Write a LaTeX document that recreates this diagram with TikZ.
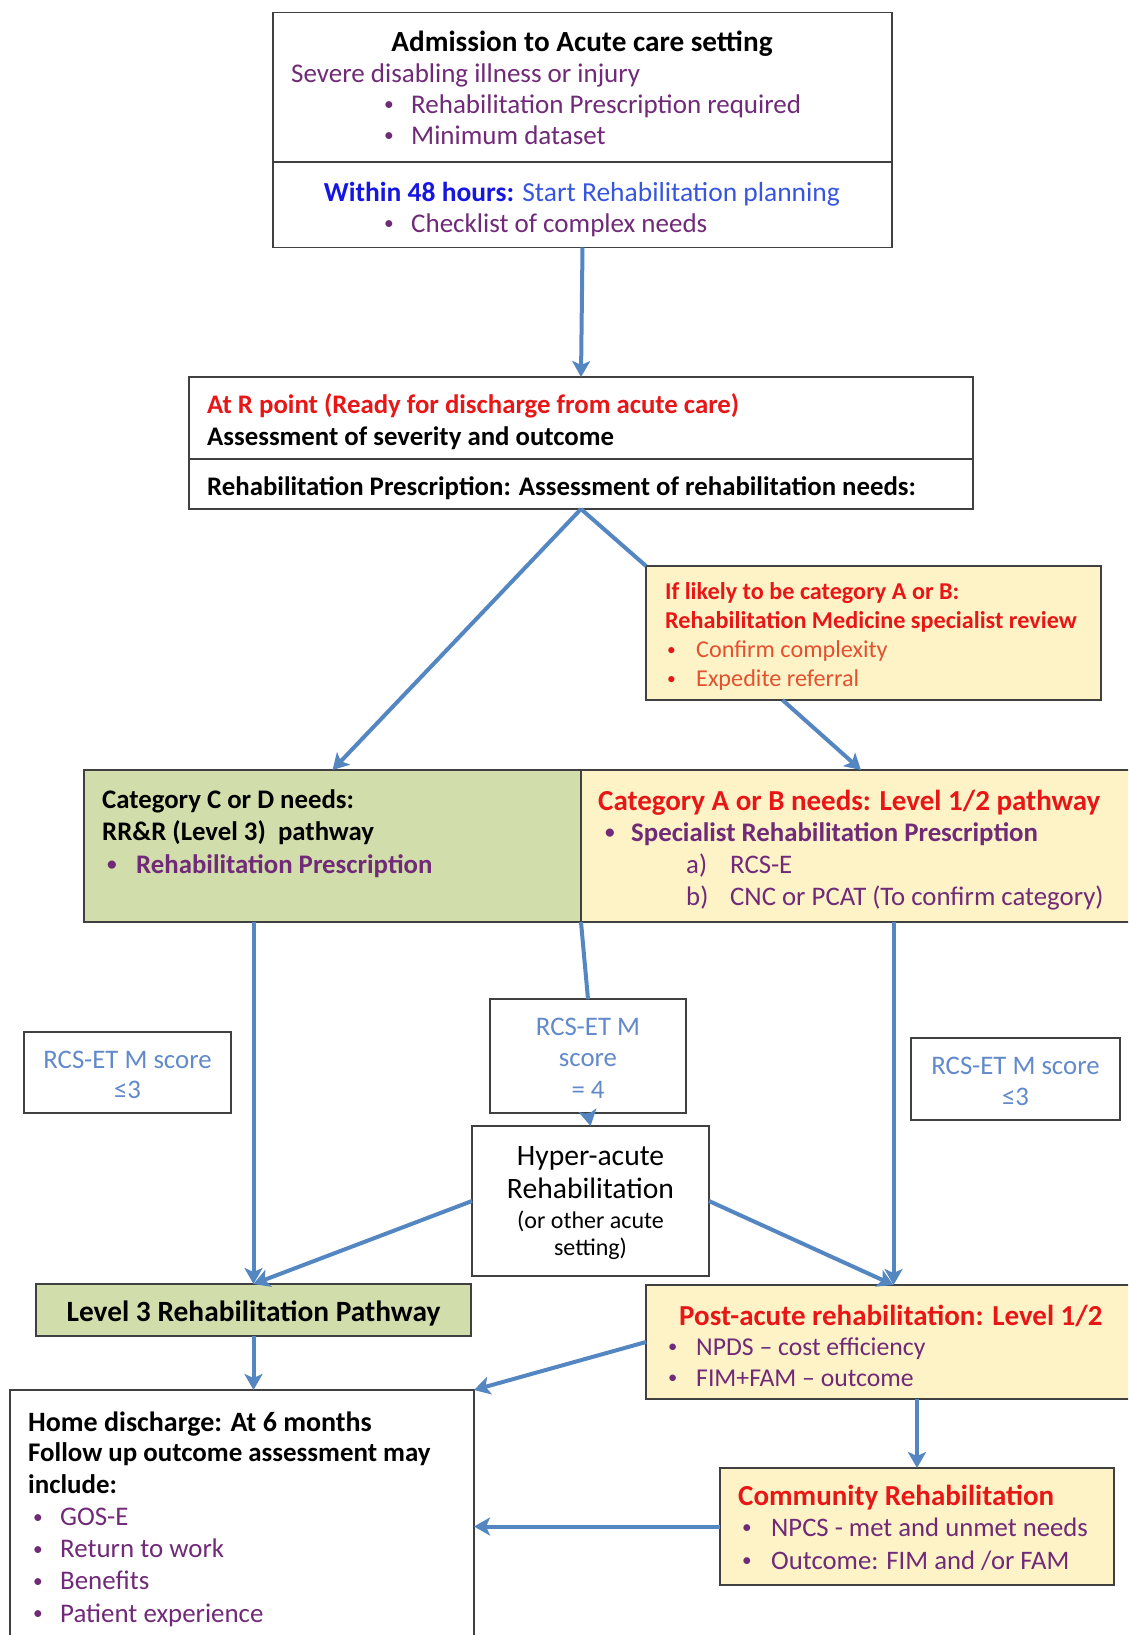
\documentclass[tikz,border=0pt]{standalone}
\usepackage{fontspec}
\setmainfont{Carlito}
\usetikzlibrary{arrows.meta,positioning,calc}

\definecolor{boxline}{RGB}{64,64,64}
\definecolor{arrowblue}{RGB}{84,134,194}
\definecolor{greenfill}{RGB}{209,222,172}
\definecolor{yellowfill}{RGB}{253,243,199}
\definecolor{txtpurple}{RGB}{112,42,120}
\definecolor{txtred}{RGB}{232,22,22}
\definecolor{txtorange}{RGB}{226,82,48}
\definecolor{txtblue}{RGB}{22,22,226}
\definecolor{txtlblue}{RGB}{55,85,222}
\definecolor{scoreblue}{RGB}{98,138,202}

\newcommand{\bul}[1][27pt]{\makebox[#1][l]{\raisebox{0.08em}{\scalebox{0.72}{•}}}}
\newcommand{\fs}[2]{\fontsize{#1}{#2}\selectfont}

\tikzset{
  box/.style={draw=boxline, line width=1.5pt, anchor=north west, inner sep=0pt, outer sep=0pt},
  txt/.style={anchor=base west, inner sep=0pt, align=left, font=\fs{27}{31}},
  ctxt/.style={txt, anchor=base, align=center},
  head/.style={txt, font=\fs{29}{32}\bfseries},
  flow/.style={draw=arrowblue, line width=4pt, -{Stealth[length=16pt,width=18pt,inset=4pt]}},
  link/.style={draw=arrowblue, line width=4pt}
}

\begin{document}
\begin{tikzpicture}[x=1pt,y=-1pt]
\useasboundingbox (0,0) rectangle (1128,1635);
\clip (0,0) rectangle (1128,1635);
\fill[white] (0,0) rectangle (1128,1635);

% boxes
\node[box, minimum width=619, minimum height=149.5] (admit) at (273,12.5) {};
\node[box, minimum width=619, minimum height=85.5] (plan) at (273,162) {};
\node[box, minimum width=784, minimum height=82] (rpoint) at (189,377) {};
\node[box, minimum width=784, minimum height=50] (rxneeds) at (189,459) {};
\node[box, fill=yellowfill, minimum width=455, minimum height=134] (review) at (646,566) {};
\node[box, fill=greenfill, minimum width=497, minimum height=152] (catcd) at (84,770) {};
\node[box, fill=yellowfill, minimum width=560, minimum height=152] (catab) at (581,770) {};
\node[box, minimum width=207, minimum height=81] (scoreL) at (24,1032) {};
\node[box, minimum width=196, minimum height=114] (scoreM) at (490,999) {};
\node[box, minimum width=209, minimum height=82] (scoreR) at (911,1038) {};
\node[box, minimum width=237, minimum height=150] (hyper) at (472,1126) {};
\node[box, fill=greenfill, minimum width=435, minimum height=52] (level3) at (36,1284) {};
\node[box, fill=yellowfill, minimum width=495, minimum height=114] (postacute) at (646,1285) {};
\node[box, fill=yellowfill, minimum width=394, minimum height=117] (community) at (720,1468) {};
\node[box, minimum width=464, minimum height=260] (home) at (10,1390) {};

% texts (multi-line nodes sit on the baseline of their last line)
\node[ctxt, font=\fs{29.2}{31}\bfseries] (admitT) at (582,51.5) {Admission to Acute care setting};
\node[txt, text=txtpurple] (admitL) at (291,144)
  {Severe disabling illness or injury\\
   \hspace*{93pt}\bul Rehabilitation Prescription required\\
   \hspace*{93pt}\bul Minimum dataset};
\node[ctxt, font=\fs{27.5}{31}, text=txtlblue] (planT) at (582,201) {\textcolor{txtblue}{\bfseries Within 48 hours:} Start Rehabilitation planning};
\node[txt, text=txtpurple] (planL) at (384,232) {\bul Checklist of complex needs};

\node[txt, font=\fs{26.8}{32}\bfseries] (rpointT) at (207,445)
  {\textcolor{txtred}{At R point (Ready for discharge from acute care)}\\
   Assessment of severity and outcome};
\node[txt, font=\fs{26.8}{31}\bfseries] (rxneedsT) at (207,495)
  {Rehabilitation Prescription: Assessment of rehabilitation needs:};

\node[txt, font=\fs{24.2}{29}, text=txtred] (reviewT) at (665,686)
  {\bfseries If likely to be category A or B:\\
   \bfseries Rehabilitation Medicine specialist review\\
   \hspace*{2pt}\bul[29pt]\textcolor{txtorange}{Confirm complexity}\\
   \hspace*{2pt}\bul[29pt]\textcolor{txtorange}{Expedite referral}};

\node[txt, font=\fs{26.8}{32.5}\bfseries] (catcdT) at (102,873)
  {Category C or D needs:\\
   RR\&R (Level 3)\ \ pathway\\
   \hspace*{5pt}\textcolor{txtpurple}{\bul[29pt]Rehabilitation Prescription}};

\node[head, text=txtred] (catabT) at (598,810) {Category A or B needs: Level 1/2 pathway};
\node[txt, font=\fs{26.8}{32}, text=txtpurple] (catabL) at (598,905)
  {\hspace*{7pt}{\bfseries\bul[26pt]Specialist Rehabilitation Prescription}\\
   \hspace*{88pt}\makebox[44pt][l]{a)}RCS-E\\
   \hspace*{88pt}\makebox[44pt][l]{b)}CNC or PCAT (To confirm category)};

\node[ctxt, font=\fs{26.8}{30}, text=scoreblue] (scoreLT) at (127.5,1098) {RCS-ET M score\\ ≤3};
\node[ctxt, font=\fs{26.8}{31.5}, text=scoreblue] (scoreMT) at (588,1098) {RCS-ET M\\ score\\ = 4};
\node[ctxt, font=\fs{26.8}{31}, text=scoreblue] (scoreRT) at (1015.5,1105) {RCS-ET M score\\ ≤3};

\node[ctxt, font=\fs{29.6}{33}] (hyperT) at (590.5,1198) {Hyper-acute\\ Rehabilitation};
\node[ctxt, font=\fs{24}{27}] (hyperS) at (590.5,1255) {(or other acute\\ setting)};

\node[ctxt, font=\fs{29.4}{32}\bfseries] (level3T) at (253.5,1321) {Level 3 Rehabilitation Pathway};

\node[head, text=txtred] (postT) at (679,1325) {Post-acute rehabilitation: Level 1/2};
\node[txt, font=\fs{25.7}{31}, text=txtpurple] (postL) at (668,1386)
  {\bul[28pt]NPDS -- cost efficiency\\
   \bul[28pt]FIM+FAM -- outcome};

\node[head, text=txtred] (communityT) at (738,1505) {Community Rehabilitation};
\node[txt, font=\fs{26.7}{33}, text=txtpurple] (communityL) at (742,1569)
  {\bul[29pt]NPCS - met and unmet needs\\
   \bul[29pt]Outcome: FIM and /or FAM};

\node[txt, font=\fs{28}{31}\bfseries] (homeT) at (28,1431) {Home discharge: At 6 months};
\node[txt, font=\fs{26.9}{32.2}, text=txtpurple] (homeL) at (28,1622)
  {\textcolor{black}{\bfseries Follow up outcome assessment may}\\
   \textcolor{black}{\bfseries include:}\\
   \hspace*{5pt}\bul GOS-E\\
   \hspace*{5pt}\bul Return to work\\
   \hspace*{5pt}\bul Benefits\\
   \hspace*{5pt}\bul Patient experience};

% connectors
\draw[flow] (plan.south) -- (rpoint.north);
\draw[flow] (rxneeds.south) -- (catcd.north);
\draw[link] (rxneeds.south) -- (review.north west);
\draw[flow] ($(review.south west)!0.3!(review.south east)$) -- (catcd.north east -| catab.north);
\draw[flow] (level3.north |- catcd.south) -- (level3.north);
\draw[link] (catcd.south east) -- (scoreM.north);
\draw[flow] (scoreM.south) -- (hyper.north);
\draw[flow] (postacute.north |- catab.south) -- (postacute.north);
\draw[flow] (hyper.west) -- (level3.north);
\draw[flow] (hyper.east) -- (postacute.north);
\draw[flow] (level3.south) -- (level3.south |- home.north);
\draw[flow] (postacute.west) -- (home.north east);
\draw[flow] (community.north |- postacute.south) -- (community.north);
\draw[flow] (community.west) -- (home.east |- community.west);
\end{tikzpicture}
\end{document}
